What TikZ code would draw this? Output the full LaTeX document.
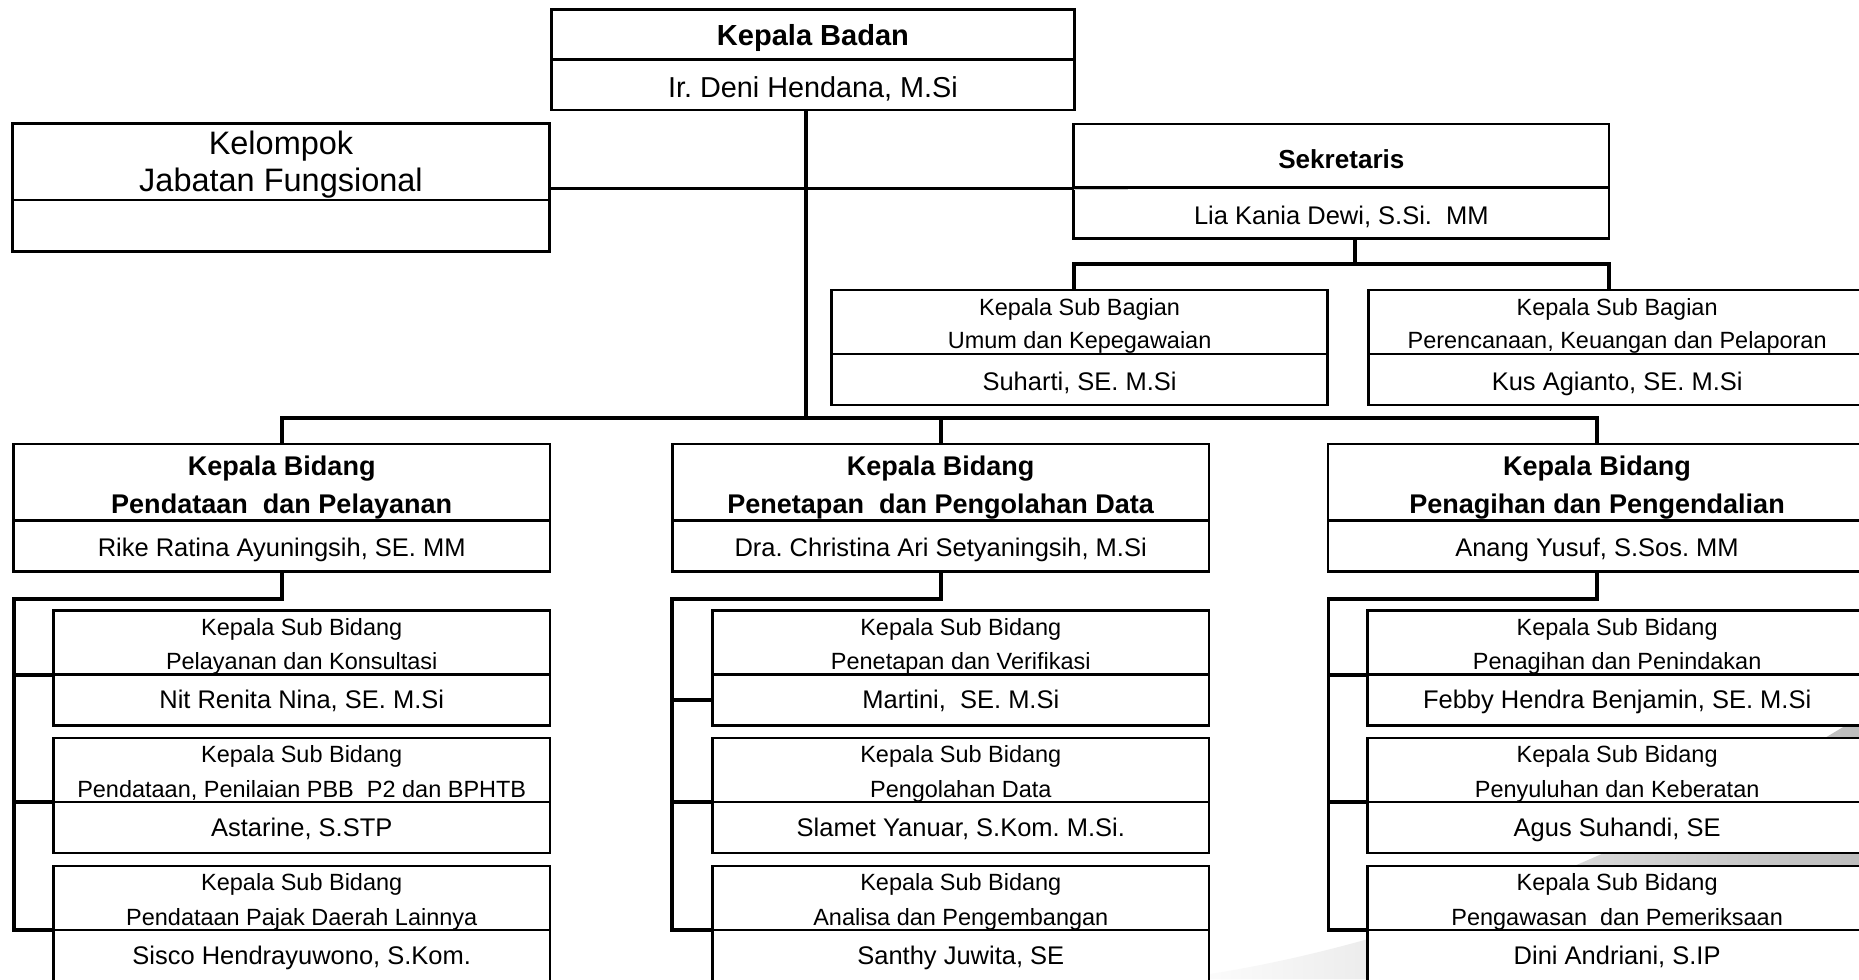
\documentclass[tikz,border=0pt]{standalone}
\usepackage{fontspec}
\setmainfont{Liberation Sans}
\usetikzlibrary{calc}
\frenchspacing

\tikzset{
  cell/.style={rectangle, draw=black, line width=2.3pt, fill=white, inner sep=0pt, outer sep=0pt},
  conn/.style={draw=black, line width=3.3pt, line join=miter},
  ttl/.style={anchor=base, inner sep=0pt, text=black, font=\fontsize{22.8}{27}\selectfont\bfseries},
  nm/.style={anchor=base, inner sep=0pt, text=black, font=\fontsize{21.5}{26}\selectfont},
  st/.style={anchor=base, inner sep=0pt, text=black, font=\fontsize{19.8}{24}\selectfont},
}

% two-part box: name, x, y(top), width, height top, height bottom
\newcommand{\mkbox}[6]{%
  \node[cell, anchor=north west, minimum width=#4pt, minimum height=#5pt] (#1-t) at (#2,#3) {};
  \node[cell, anchor=north west, minimum width=#4pt, minimum height=#6pt] (#1-b) at (#1-t.south west) {};
}
% sub unit: name, x, top, width, text centre x, line 1, line 2, person
\newcommand{\subunit}[8]{%
  \mkbox{#1}{#2}{#3}{#4}{54}{43}
  \node[st] (#1-l1) at (#5,#3+21) {#6};
  \node[st] (#1-l2) at (#5,#3+50) {#7};
  \node[nm] (#1-p) at (#5,#3+83) {#8};
}

\begin{document}
\begin{tikzpicture}[x=1pt, y=-1pt]
\useasboundingbox (0,0) rectangle (1568,826);
\clip (0,0) rectangle (1568,826);
\fill[white] (0,0) rectangle (1568,826);

% background swoosh
\shade[left color=white, right color=black!26]
  (990,826) .. controls (1190,800) and (1390,715) .. (1568,605) -- (1568,826) -- cycle;

% ---------- boxes ----------
\mkbox{kb}{465.3}{7.9}{440.7}{42.1}{42.8}
\node[ttl, font=\fontsize{24.5}{29}\selectfont\bfseries] (kb-l1) at (685.7,38.8) {Kepala Badan};
\node[nm, font=\fontsize{24.3}{29}\selectfont] (kb-p) at (685.7,82.4) {Ir. Deni Hendana, M.Si};

\mkbox{kj}{10.6}{104}{452.7}{64.7}{43.6}
\node[nm, font=\fontsize{27.4}{32}\selectfont] (kj-l1) at (237,130) {Kelompok};
\node[nm, font=\fontsize{27.4}{32}\selectfont] (kj-l2) at (237,161.7) {Jabatan Fungsional};

\mkbox{sk}{905.5}{104.6}{451.7}{53.4}{43}
\node[ttl, font=\fontsize{22}{26}\selectfont\bfseries] (sk-l1) at (1131.4,142) {Sekretaris};
\node[nm] (sk-p) at (1131.4,189) {Lia Kania Dewi, S.Si.\ \ MM};

\mkbox{um}{701.5}{244.6}{418.2}{54}{43}
\node[st] (um-l1) at (910.6,265.7) {Kepala Sub Bagian};
\node[st] (um-l2) at (910.6,293.8) {Umum dan Kepegawaian};
\node[nm] (um-p) at (910.6,329) {Suharti, SE. M.Si};

\mkbox{pr}{1154.4}{244.6}{419.6}{54}{43}
\node[st] (pr-l1) at (1364,265.7) {Kepala Sub Bagian};
\node[st] (pr-l2) at (1364,293.8) {Perencanaan, Keuangan dan Pelaporan};
\node[nm] (pr-p) at (1364,329) {Kus Agianto, SE. M.Si};

% Bidang
\mkbox{b1}{11.3}{374.5}{452.6}{64.4}{43.4}
\node[ttl] (b1-l1) at (237.6,401) {Kepala Bidang};
\node[ttl] (b1-l2) at (237.6,433.5) {Pendataan\ \ dan Pelayanan};
\node[nm] (b1-p) at (237.6,469.6) {Rike Ratina Ayuningsih, SE. MM};

\mkbox{b2}{567.1}{374.5}{452.6}{64.4}{43.4}
\node[ttl] (b2-l1) at (793.4,401) {Kepala Bidang};
\node[ttl] (b2-l2) at (793.4,433.5) {Penetapan\ \ dan Pengolahan Data};
\node[nm] (b2-p) at (793.4,469.6) {Dra. Christina Ari Setyaningsih, M.Si};

\mkbox{b3}{1120}{374.5}{454}{64.4}{43.4}
\node[ttl] (b3-l1) at (1347,401) {Kepala Bidang};
\node[ttl] (b3-l2) at (1347,433.5) {Penagihan dan Pengendalian};
\node[nm] (b3-p) at (1347,469.6) {Anang Yusuf, S.Sos. MM};

% Sub Bidang - left
\subunit{l1}{45.2}{515}{418.7}{254.5}{Kepala Sub Bidang}{Pelayanan dan Konsultasi}{Nit Renita Nina, SE. M.Si}
\subunit{l2}{45.2}{622.5}{418.7}{254.5}{Kepala Sub Bidang}{Pendataan, Penilaian PBB\ \ P2 dan BPHTB}{Astarine, S.STP}
\subunit{l3}{45.2}{730.5}{418.7}{254.5}{Kepala Sub Bidang}{Pendataan Pajak Daerah Lainnya}{Sisco Hendrayuwono, S.Kom.}
% Sub Bidang - middle
\subunit{m1}{601}{515}{418.7}{810.4}{Kepala Sub Bidang}{Penetapan dan Verifikasi}{Martini,\ \ SE. M.Si}
\subunit{m2}{601}{622.5}{418.7}{810.4}{Kepala Sub Bidang}{Pengolahan Data}{Slamet Yanuar, S.Kom. M.Si.}
\subunit{m3}{601}{730.5}{418.7}{810.4}{Kepala Sub Bidang}{Analisa dan Pengembangan}{Santhy Juwita, SE}
% Sub Bidang - right
\subunit{r1}{1153.6}{515}{420.4}{1364}{Kepala Sub Bidang}{Penagihan dan Penindakan}{Febby Hendra Benjamin, SE. M.Si}
\subunit{r2}{1153.6}{622.5}{420.4}{1364}{Kepala Sub Bidang}{Penyuluhan dan Keberatan}{Agus Suhandi, SE}
\subunit{r3}{1153.6}{730.5}{420.4}{1364}{Kepala Sub Bidang}{Pengawasan\ \ dan Pemeriksaan}{Dini Andriani, S.IP}

% ---------- connectors ----------
\coordinate (bus) at (679.5,352.5);
\coordinate (kjy) at (0,159);
\coordinate (skj) at (1143,222.7);
\coordinate (lsp) at (12,505);
\coordinate (msp) at (566.5,505);
\coordinate (rsp) at (1120.5,505);

% main line
\draw[conn] (kb-b.south -| bus) -- (bus);
\draw[conn] (kj-t.east |- kjy) -- (sk-t.west |- kjy);
\draw[conn] (b1-t.north) -- (b1-t.north |- bus) -- (b3-t.north |- bus) -- (b3-t.north);
\draw[conn] (b2-t.north) -- (b2-t.north |- bus);

% Sekretaris
\draw[conn] (sk-b.south -| skj) -- (skj);
\draw[conn] (um-t.north -| sk-b.west) -- (sk-b.west |- skj) -- (sk-b.east |- skj) -- (pr-t.north -| sk-b.east);
\draw[gray!40, line width=1.2pt] (sk-b.north west) ++(0,2) -- ++(45.5,0);

% left column
\draw[conn] (b1-b.south) -- (b1-b.south |- lsp) -- (lsp) -- (lsp |- l3-b.north west) -- (l3-b.north west);
\draw[conn] (lsp |- l1-b.north west) -- (l1-b.north west);
\draw[conn] (lsp |- l2-b.north west) -- (l2-b.north west);
% middle column
\draw[conn] (b2-b.south) -- (b2-b.south |- msp) -- (msp) -- (msp |- m3-b.north west) -- (m3-b.north west);
\draw[conn] (msp |- m1-b.west) -- (m1-b.west);
\draw[conn] (msp |- m2-b.north west) -- (m2-b.north west);
% right column
\draw[conn] (b3-b.south) -- (b3-b.south |- rsp) -- (rsp) -- (rsp |- r3-b.north west) -- (r3-b.north west);
\draw[conn] (rsp |- r1-b.north west) -- (r1-b.north west);
\draw[conn] (rsp |- r2-b.north west) -- (r2-b.north west);
\end{tikzpicture}
\end{document}
